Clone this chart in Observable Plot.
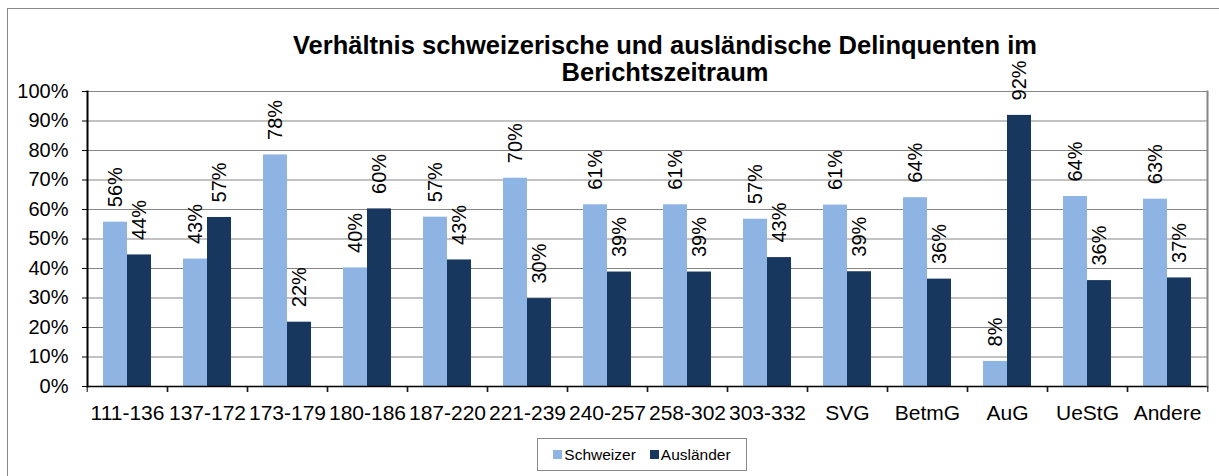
<!DOCTYPE html>
<html>
<head>
<meta charset="utf-8">
<script src="https://cdn.jsdelivr.net/npm/d3@7"></script>
<script src="https://cdn.jsdelivr.net/npm/@observablehq/plot@0.6"></script>
<style>
  html, body { margin: 0; padding: 0; background: #fff; }
  #wrap { position: relative; width: 1219px; height: 476px; overflow: hidden; font-family: "Liberation Sans", Arial, sans-serif; }
  #border { position: absolute; left: 7px; top: 8px; width: 1230px; height: 490px; border: 1.5px solid #888; box-sizing: border-box; }
  .title { position: absolute; left: 165px; width: 1000px; text-align: center; font-weight: bold; font-size: 25.5px; line-height: 27px; height: 27px; color: #000; white-space: nowrap; }
  #t1 { top: 32px; }
  #t2 { top: 59px; }
  #chart { position: absolute; left: 0; top: 0; }
  #legend { position: absolute; left: 537px; top: 438px; width: 210px; height: 33px; border: 1px solid #888; box-sizing: border-box; display: flex; align-items: center; justify-content: center; gap: 14px; font-size: 15.5px; color: #000; }
  #legend .item { display: flex; align-items: center; }
  #legend .sw { width: 9px; height: 9px; margin-right: 2px; }
</style>
</head>
<body>
<div id="wrap">
  <div id="border"></div>
  <div id="chart"></div>
  <div class="title" id="t1">Verhältnis schweizerische und ausländische Delinquenten im</div>
  <div class="title" id="t2">Berichtszeitraum</div>
  <div id="legend"></div>
</div>
<script>
const categories = ["111-136","137-172","173-179","180-186","187-220","221-239","240-257","258-302","303-332","SVG","BetmG","AuG","UeStG","Andere"];
const seriesNames = ["Schweizer","Ausländer"];
const seriesColors = ["#8eb4e3","#17375e"];
const schweizer = [55.7, 43.2, 78.5, 40.2, 57.4, 70.6, 61.6, 61.6, 56.7, 61.5, 64.0, 8.5, 64.4, 63.5];
const auslaender = [44.6, 57.3, 21.8, 60.2, 42.9, 29.8, 38.8, 38.8, 43.7, 38.9, 36.4, 91.9, 35.9, 36.8];
const schweizerLabels = ["56%","43%","78%","40%","57%","70%","61%","61%","57%","61%","64%","8%","64%","63%"];
const auslaenderLabels = ["44%","57%","22%","60%","43%","30%","39%","39%","43%","39%","36%","92%","36%","37%"];
const yTicks = [0, 0.1, 0.2, 0.3, 0.4, 0.5, 0.6, 0.7, 0.8, 0.9, 1.0];
const yTickLabels = ["0%","10%","20%","30%","40%","50%","60%","70%","80%","90%","100%"];

const data = categories.flatMap((c, i) => [
  {cat: c, series: seriesNames[0], value: schweizer[i] / 100, label: schweizerLabels[i]},
  {cat: c, series: seriesNames[1], value: auslaender[i] / 100, label: auslaenderLabels[i]}
]);

const W = 1219, H = 476, mL = 82, mR = 8, mT = 91, mB = 90;
const step = (W - mL - mR) / categories.length;

const chart = Plot.plot({
  width: W, height: H,
  marginLeft: mL, marginRight: mR, marginTop: mT, marginBottom: mB,
  style: {fontFamily: "'Liberation Sans', Arial, sans-serif", background: "transparent", overflow: "visible"},
  fx: {domain: categories, padding: 0, label: null},
  x: {domain: seriesNames, paddingInner: 0, paddingOuter: 0.645, axis: null},
  y: {domain: [0, 1], label: null},
  color: {domain: seriesNames, range: seriesColors},
  marks: [
    Plot.ruleY(yTicks, {stroke: "#868686", strokeWidth: 1.2}),
    Plot.barY(data, {fx: "cat", x: "series", y: "value", fill: "series", inset: 0}),
    Plot.ruleY([0], {stroke: "#000", strokeWidth: 1.5}),
    Plot.frame({anchor: "left", facetAnchor: "left", stroke: "#000", strokeWidth: 2}),
    Plot.frame({anchor: "right", facetAnchor: "right", stroke: "#868686", strokeWidth: 2}),
    Plot.axisY({ticks: yTicks, tickFormat: (d) => yTickLabels[yTicks.indexOf(d)], tickSize: 5, tickPadding: 14, fontSize: 20, stroke: "#000", label: null}),
    Plot.axisFx({anchor: "bottom", tickSize: 0, tickPadding: 19, fontSize: 21, label: null}),
    Plot.axisFx({anchor: "bottom", tickSize: 6, tickFormat: () => "", dx: -step / 2, stroke: "#000", label: null}),
    Plot.axisFx({anchor: "bottom", tickSize: 6, tickFormat: () => "", dx: step / 2, stroke: "#000", label: null}),
    Plot.text(data, {fx: "cat", x: "series", y: "value", text: "label", rotate: -90, textAnchor: "start", lineAnchor: "middle", dy: -15, fontSize: 20, fill: "#000"})
  ]
});
document.getElementById("chart").appendChild(chart);

const legend = document.getElementById("legend");
seriesNames.forEach((s, i) => {
  const item = document.createElement("div");
  item.className = "item";
  const sw = document.createElement("span");
  sw.className = "sw";
  sw.style.background = seriesColors[i];
  const t = document.createElement("span");
  t.textContent = s;
  item.appendChild(sw); item.appendChild(t);
  legend.appendChild(item);
});
</script>
</body>
</html>
